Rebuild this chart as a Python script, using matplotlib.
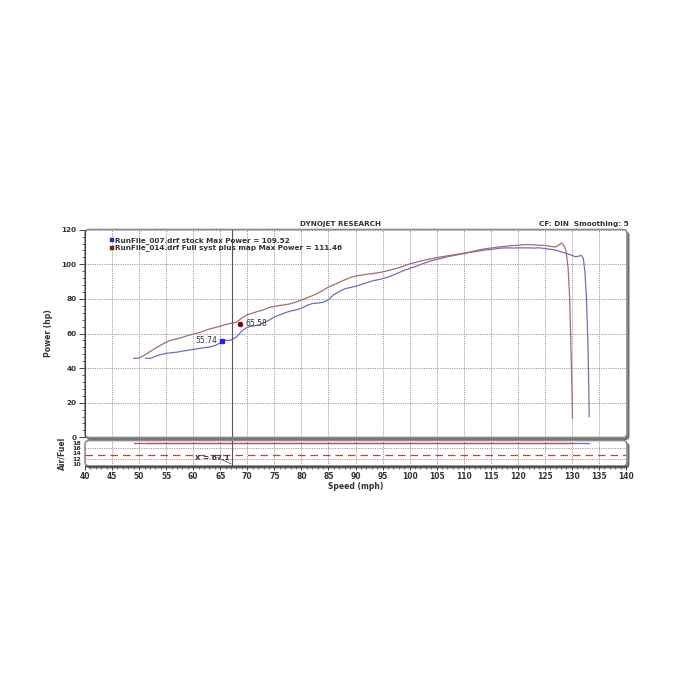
import matplotlib
matplotlib.use("Agg")
import matplotlib.pyplot as plt
from matplotlib.patches import FancyBboxPatch
from matplotlib.ticker import MultipleLocator

# ---------------- data ----------------
speed_stock = [51.2, 52.2, 53, 54, 55, 56, 57, 58, 59, 60, 61, 62, 63, 64, 65, 65.5, 66, 67, 68, 69,
               70, 71, 72, 73, 74, 75, 76, 77, 78, 79, 80, 81, 82, 83, 84, 85, 86, 87, 88, 89,
               90, 91, 92, 93, 94, 95, 96, 97, 98, 99, 100, 101, 102, 103, 104, 105, 106, 107, 108, 109,
               110, 111, 112, 113, 114, 115, 116, 117, 118, 119, 120, 121, 122, 123, 124, 125, 126, 127, 128, 129,
               130, 130.6, 131.2, 131.7, 132.1, 132.4, 132.7, 133.0, 133.2]
power_stock = [45.6, 45.7, 46.8, 47.8, 48.5, 48.9, 49.2, 49.8, 50.3, 50.8, 51.3, 51.8, 52.2, 53.0, 54.5, 55.7, 56.0, 56.2, 58.0, 61.5,
               63.6, 64.3, 64.8, 66.2, 67.7, 69.5, 70.8, 72.0, 73.0, 73.6, 74.6, 76.2, 77.3, 77.6, 78.0, 79.5, 82.5, 84.3, 85.8, 86.6,
               87.3, 88.2, 89.3, 90.3, 91.0, 91.7, 92.6, 93.8, 95.2, 96.5, 97.6, 98.6, 99.8, 101.0, 102.0, 102.8, 103.6, 104.4, 105.0, 105.6,
               106.2, 106.8, 107.3, 107.8, 108.3, 108.6, 109.0, 109.4, 109.5, 109.4, 109.5, 109.5, 109.5, 109.4, 109.5, 109.1, 108.7, 108.2, 107.2, 106.3,
               105.2, 104.4, 104.6, 105.2, 103.5, 96.0, 80.0, 50.0, 12.0]

speed_mod = [49, 50, 51, 52, 53, 54, 55, 56, 57, 58, 59, 60, 61, 62, 63, 64, 65, 66, 67, 68,
             69, 70, 71, 72, 73, 74, 75, 76, 77, 78, 79, 80, 81, 82, 83, 84, 85, 86, 87, 88,
             89, 90, 91, 92, 93, 94, 95, 96, 97, 98, 99, 100, 101, 102, 103, 104, 105, 106, 107, 108,
             109, 110, 111, 112, 113, 114, 115, 116, 117, 118, 119, 120, 121, 122, 123, 124, 125, 126, 127, 127.6,
             128.1, 128.5, 128.9, 129.3, 129.6, 129.8, 130.0, 130.1]
power_mod = [45.6, 45.8, 47.5, 49.5, 51.5, 53.3, 55.0, 56.2, 56.9, 57.8, 58.8, 59.6, 60.4, 61.5, 62.6, 63.4, 64.2, 65.2, 65.9, 66.5,
             69.0, 70.8, 71.8, 72.8, 73.7, 75.0, 75.6, 76.2, 76.6, 77.2, 78.2, 79.4, 80.6, 81.8, 83.2, 85.0, 86.8, 88.2, 89.6, 91.0,
             92.3, 93.2, 93.7, 94.2, 94.6, 95.0, 95.6, 96.4, 97.2, 98.0, 99.1, 100.2, 101.0, 101.9, 102.6, 103.2, 103.8, 104.4, 104.9, 105.4,
             105.9, 106.4, 107.0, 107.7, 108.4, 109.0, 109.4, 109.8, 110.2, 110.5, 110.8, 111.0, 111.3, 111.4, 111.2, 111.0, 110.9, 110.4, 110.0, 111.2,
             112.3, 111.0, 108.0, 98.0, 80.0, 55.0, 30.0, 11.0]

legend_labels = ["RunFile_007.drf stock Max Power = 109.52",
                 "RunFile_014.drf Full syst plus map Max Power = 111.46"]
cursor_speed = 67.1
marker_stock = (65.4, 55.74)
marker_mod = (68.7, 65.58)
afr_speed_stock = [51.2, 133.2]
afr_stock = [17.9, 17.9]
afr_speed_mod = [49.0, 130.1]
afr_mod = [17.9, 17.9]
afr_target = 13.2

c_stock = "#6e6ec0"
c_mod = "#a66c6c"
grid_c = "#9a9a9a"
frame_c = "#8c8c8c"
txt_c = "#333333"

fig = plt.figure(figsize=(7, 7), dpi=100)
W = H = 700.0

def fx(px):
    return px / W

def fy(py):
    return 1 - py / H

# shadow / frames
for (y0, y1) in [(229.5, 437.5), (440.5, 466)]:
    sh = FancyBboxPatch((fx(86), fy(y1 + 2.5)), fx(627 + 2.5) - fx(86), fy(y0 + 2) - fy(y1 + 2.5),
                        boxstyle="round,pad=0,rounding_size=0.006", transform=fig.transFigure,
                        facecolor="#6e6e6e", edgecolor="none", zorder=0)
    fig.patches.append(sh)
    bx = FancyBboxPatch((fx(85), fy(y1)), fx(627) - fx(85), fy(y0) - fy(y1),
                        boxstyle="round,pad=0,rounding_size=0.006", transform=fig.transFigure,
                        facecolor="white", edgecolor=frame_c, linewidth=1.2, zorder=0.5)
    fig.patches.append(bx)

ax = fig.add_axes([fx(85), fy(437.3), fx(626) - fx(85), fy(229.7) - fy(437.3)])
ax.set_zorder(2)
ax.patch.set_alpha(0)
ax.set_xlim(40, 140)
ax.set_ylim(0, 120)
for s in ["top", "right", "bottom"]:
    ax.spines[s].set_visible(False)
ax.spines["left"].set_color("#444444")
ax.spines["left"].set_linewidth(0.8)
ax.xaxis.set_major_locator(MultipleLocator(5))
ax.yaxis.set_major_locator(MultipleLocator(20))
ax.yaxis.set_minor_locator(MultipleLocator(4))
ax.grid(True, which="major", color=grid_c, linestyle=(0, (1.2, 1.2)), linewidth=0.7)
ax.tick_params(axis="x", which="both", bottom=False, labelbottom=False)
ax.tick_params(axis="y", which="major", length=4, width=0.7, color="#444444",
               labelsize=5.2, labelcolor=txt_c, pad=2)
ax.tick_params(axis="y", which="minor", length=2, width=0.6, color="#444444")
for lab in ax.get_yticklabels():
    lab.set_fontweight("bold")
ax.set_ylabel("Power (hp)", fontsize=5.5, fontweight="bold", color=txt_c, labelpad=6)

ax.plot(speed_stock, power_stock, color=c_stock, lw=0.9)
ax.plot(speed_mod, power_mod, color=c_mod, lw=0.9)
ax.axvline(cursor_speed, color="#555555", lw=0.8)
ax.plot(*marker_stock, marker="s", ms=3, color="#1f1fff", mec="#1f1fff")
ax.plot(*marker_mod, marker="o", ms=3, color="#8b0000")
ax.text(marker_stock[0] - 0.9, marker_stock[1], f"{marker_stock[1]:.2f}", fontsize=5.5,
        ha="right", va="center", color=txt_c)
ax.text(marker_mod[0] + 0.9, marker_mod[1], f"{marker_mod[1]:.2f}", fontsize=5.5,
        ha="left", va="center", color=txt_c)

# legend
for i, (lab, col) in enumerate(zip(legend_labels, ["#2a2aff", "#8b1a1a"])):
    ax.plot([44.9], [114.0 - i * 4.3], marker="s", ms=3.2, color=col, mec="#333333", mew=0.3,
            clip_on=False)
    ax.text(45.6, 114.0 - i * 4.3, lab, fontsize=5.2, fontweight="bold", color=txt_c,
            ha="left", va="center")

fig.text(fx(340), fy(224), "DYNOJET RESEARCH", fontsize=5.2, fontweight="bold",
         color=txt_c, ha="center", va="center")
fig.text(fx(629), fy(224), "CF: DIN  Smoothing: 5", fontsize=5.2, fontweight="bold",
         color=txt_c, ha="right", va="center")

# air/fuel panel
ax2 = fig.add_axes([fx(85), fy(466), fx(626) - fx(85), fy(440.5) - fy(466)])
ax2.set_zorder(2)
ax2.patch.set_alpha(0)
ax2.set_xlim(40, 140)
ax2.set_ylim(9.2, 18.9)
for s in ["top", "right", "left"]:
    ax2.spines[s].set_visible(False)
ax2.spines["bottom"].set_color("#444444")
ax2.spines["bottom"].set_linewidth(0.8)
ax2.xaxis.set_major_locator(MultipleLocator(5))
ax2.xaxis.set_minor_locator(MultipleLocator(1))
ax2.set_yticks([10, 12, 14, 16, 18])
ax2.grid(True, axis="x", which="major", color=grid_c, linestyle=(0, (1.2, 1.2)), linewidth=0.7)
for yv in [12, 16]:
    ax2.axhline(yv, color=grid_c, linestyle=(0, (1.2, 1.2)), linewidth=0.7)
ax2.tick_params(axis="x", which="major", length=3, width=0.7, color="#444444",
                labelsize=5.5, labelcolor=txt_c, pad=1)
ax2.tick_params(axis="x", which="minor", length=2, width=0.5, color="#444444")
ax2.tick_params(axis="y", length=0, labelsize=4.6, labelcolor=txt_c, pad=3)
for lab in ax2.get_xticklabels() + ax2.get_yticklabels():
    lab.set_fontweight("bold")
ax2.set_ylabel("Air/Fuel", fontsize=5.5, fontweight="bold", color=txt_c, labelpad=4)
ax2.set_xlabel("Speed (mph)", fontsize=5.5, fontweight="bold", color=txt_c, labelpad=1)
ax2.axhline(afr_target, color="#d23a3a", lw=0.9, dashes=(6, 4))
ax2.plot(afr_speed_stock, afr_stock, color=c_stock, lw=0.9)
ax2.plot(afr_speed_mod, afr_mod, color="#c05050", lw=0.9)
ax2.axvline(cursor_speed, color="#555555", lw=0.8)
ax2.text(60.3, 12.4, f"X = {cursor_speed}", fontsize=5.2, fontweight="bold", color=txt_c,
         ha="left", va="center")
ax2.plot([64.5, cursor_speed - 0.1], [12.4, 10.0], color="#444444", lw=0.5)

fig.savefig("out.png", dpi=100, facecolor="white")
